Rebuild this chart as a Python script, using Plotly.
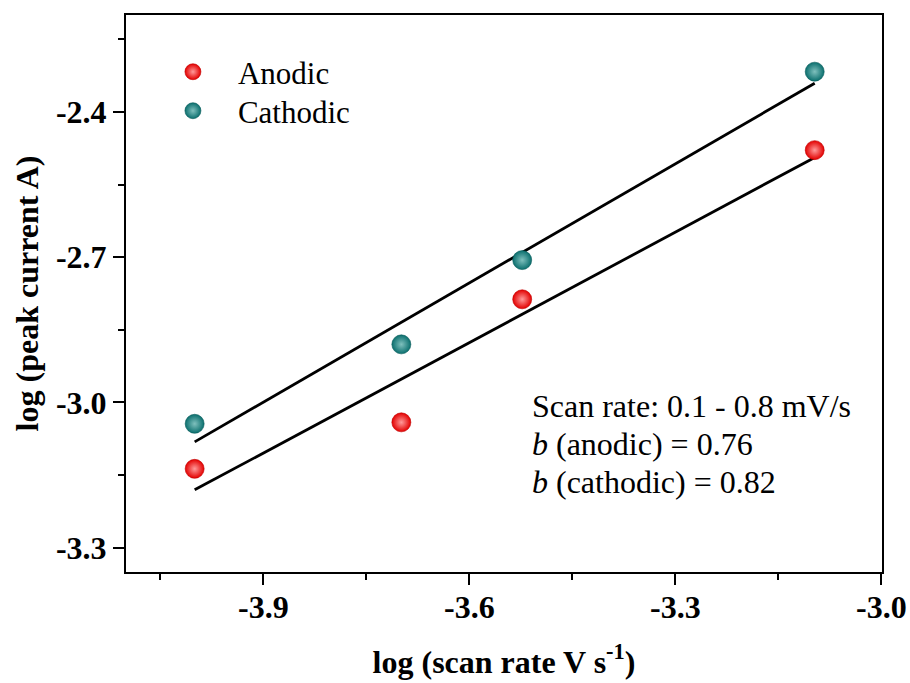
import numpy as np
import plotly.graph_objects as go

# Scan rates (mV/s) and their log10 in V/s
scan_rate_mv = [0.1, 0.2, 0.3, 0.8]
log_rate = [-4.0, -3.699, -3.523, -3.097]

# log10 of peak currents (A)
anodic = [-3.137, -3.041, -2.787, -2.479]
cathodic = [-3.044, -2.880, -2.706, -2.317]

# b-values (slopes of log i vs log v)
b_anodic = 0.76
b_cathodic = 0.82

# axis ticks
x_tickvals = [-3.9, -3.6, -3.3, -3.0]
x_ticktext = ["-3.9", "-3.6", "-3.3", "-3.0"]
y_tickvals = [-2.4, -2.7, -3.0, -3.3]
y_ticktext = ["-2.4", "-2.7", "-3.0", "-3.3"]

SERIF = "Liberation Serif"


def fit_line(x, y, slope):
    x = np.asarray(x)
    y = np.asarray(y)
    xs = np.array([x.min(), x.max()])
    intercept = y.mean() - slope * x.mean()
    return xs, slope * xs + intercept


fig = go.Figure()

# fitted lines
for ys, b in [(cathodic, b_cathodic), (anodic, b_anodic)]:
    lx, ly = fit_line(log_rate, ys, b)
    fig.add_trace(go.Scatter(x=lx, y=ly, mode="lines",
                             line=dict(color="black", width=2.8),
                             showlegend=False, hoverinfo="skip"))

# data points (shaded spheres)
fig.add_trace(go.Scatter(
    x=log_rate, y=anodic, mode="markers", name="Anodic", legend="legend",
    marker=dict(size=19, color="#e30000",
                gradient=dict(type="radial", color="#ff9a9a"),
                line=dict(color="#c00000", width=0.6)),
))
fig.add_trace(go.Scatter(
    x=log_rate, y=cathodic, mode="markers", name="Cathodic", legend="legend2",
    marker=dict(size=19, color="#0b6f6e",
                gradient=dict(type="radial", color="#7fc0bd"),
                line=dict(color="#075a59", width=0.6)),
))

axis_common = dict(
    showline=True, linecolor="black", linewidth=2, mirror=True,
    ticks="outside", ticklen=11, tickwidth=2, tickcolor="black",
    showgrid=False, zeroline=False, tickmode="array", automargin=False,
    tickfont=dict(family=SERIF, size=32, color="black", weight="bold"),
)
minor_common = dict(ticks="outside", ticklen=6, tickwidth=2, tickcolor="black",
                    tickmode="linear", tick0=-3.0, dtick=0.15)
title_font = dict(family=SERIF, size=32, color="black", weight="bold")

fig.update_xaxes(
    **axis_common,
    range=[-4.1, -2.999], tickvals=x_tickvals, ticktext=x_ticktext,
    ticklabelstandoff=-5,
    minor=minor_common,
    title=dict(text="log (scan rate V s<sup>-1</sup>)", standoff=26,
               font=title_font),
)
fig.update_yaxes(
    **axis_common,
    range=[-3.35, -2.2], tickvals=y_tickvals, ticktext=y_ticktext,
    minor=minor_common,
    title=dict(text="log (peak current A)", standoff=8, font=title_font),
)

notes = [
    "Scan rate: 0.1 - 0.8 mV/s",
    f"<i>b</i> (anodic) = {b_anodic:.2f}",
    f"<i>b</i> (cathodic) = {b_cathodic:.2f}",
]
for i, t in enumerate(notes):
    fig.add_annotation(text=t, xref="paper", yref="paper",
                       x=0.535, y=0.298 - i * 0.068,
                       xanchor="left", yanchor="middle", showarrow=False,
                       font=dict(family=SERIF, size=32, color="black"))

legend_common = dict(xanchor="left", yanchor="top", bgcolor="rgba(0,0,0,0)",
                     font=dict(family=SERIF, size=31, color="black"),
                     itemwidth=80)

fig.update_layout(
    width=910, height=683,
    margin=dict(l=126, r=28, t=15, b=111),
    paper_bgcolor="white", plot_bgcolor="white",
    legend=dict(x=0.029, y=0.946, **legend_common),
    legend2=dict(x=0.029, y=0.876, **legend_common),
    showlegend=True,
)

fig.write_html("out.html")
